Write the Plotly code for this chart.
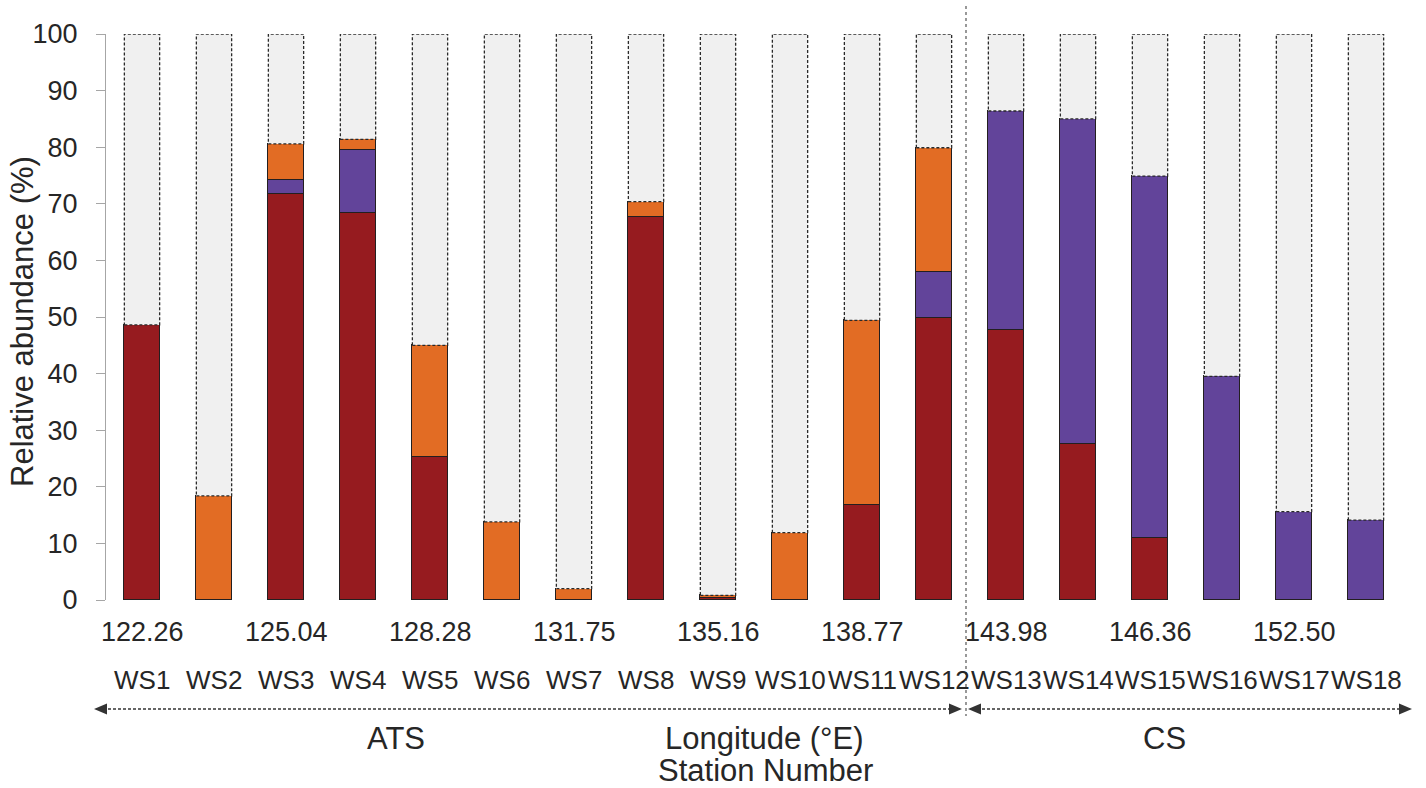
import plotly.graph_objects as go

stations = ["WS1", "WS2", "WS3", "WS4", "WS5", "WS6", "WS7", "WS8", "WS9",
            "WS10", "WS11", "WS12", "WS13", "WS14", "WS15", "WS16", "WS17", "WS18"]
longitude_labels = ["122.26", "", "125.04", "", "128.28", "", "131.75", "", "135.16",
                    "", "138.77", "", "143.98", "", "146.36", "", "152.50", ""]
red_vals = [48.6, 0, 71.8, 68.3, 25.3, 0, 0, 67.7, 0.4,
            0, 16.7, 49.8, 47.7, 27.6, 10.9, 0, 0, 0]
purple_vals = [0, 0, 2.4, 11.2, 0, 0, 0, 0, 0,
               0, 0, 8.2, 38.7, 57.4, 64.0, 39.5, 15.6, 14.1]
orange_vals = [0, 18.4, 6.4, 1.9, 19.7, 13.8, 2.0, 2.7, 0.4,
               11.9, 32.7, 21.9, 0, 0, 0, 0, 0, 0]
groups = ["ATS", "CS"]

n = len(stations)
xs = list(range(n))
colored_top = [r + p + o for r, p, o in zip(red_vals, purple_vals, orange_vals)]
gray_vals = [round(100 - t, 2) for t in colored_top]

RED = "#961B1F"
PURPLE = "#62449A"
ORANGE = "#E26C24"
GRAY = "#F0F0F0"
EDGE = "#231F20"
FONT = "Liberation Sans, Arial, sans-serif"
TXT = "#262626"
BAR_W = 0.49

fig = go.Figure()
for name, vals, col in [("red", red_vals, RED), ("purple", purple_vals, PURPLE),
                        ("orange", orange_vals, ORANGE)]:
    fig.add_trace(go.Bar(x=xs, y=vals, name=name, width=BAR_W,
                         marker=dict(color=col, line=dict(color=EDGE, width=1.2)),
                         showlegend=False))
fig.add_trace(go.Bar(x=xs, y=gray_vals, name="other", width=BAR_W,
                     marker=dict(color=GRAY, line=dict(width=0)), showlegend=False))

shapes = []
# dashed outlines of the remainder segments, derived from the data
for i, (t, g) in enumerate(zip(colored_top, gray_vals)):
    if g > 0:
        shapes.append(dict(type="rect", xref="x", yref="y",
                           x0=i - BAR_W / 2, x1=i + BAR_W / 2, y0=t, y1=100,
                           line=dict(color="#2a2a2a", width=1.3, dash="3px,2px"),
                           fillcolor="rgba(0,0,0,0)", layer="above"))

# plot area geometry in pixels
L, T, W, H = 106, 34, 1296, 566


def px(xp):
    return (xp - L) / W


def py(yp):
    return (T + H - yp) / H


# vertical separator between ATS and CS
shapes.append(dict(type="line", xref="paper", yref="paper",
                   x0=px(966), x1=px(966), y0=py(6), y1=py(716),
                   line=dict(color="#555555", width=1.2, dash="3px,3px")))

# range arrows
arrow_y = 709
for x0p, x1p in [(98, 958), (972, 1408)]:
    shapes.append(dict(type="line", xref="paper", yref="paper",
                       x0=px(x0p), x1=px(x1p), y0=py(arrow_y), y1=py(arrow_y),
                       line=dict(color="#333333", width=1.3, dash="3px,2px")))
    shapes.append(dict(type="path", xref="paper", yref="paper",
                       path=f"M {px(x0p - 4)} {py(arrow_y)} L {px(x0p + 9)} {py(arrow_y - 5.5)} "
                            f"L {px(x0p + 9)} {py(arrow_y + 5.5)} Z",
                       fillcolor="#333333", line=dict(width=0)))
    shapes.append(dict(type="path", xref="paper", yref="paper",
                       path=f"M {px(x1p + 4)} {py(arrow_y)} L {px(x1p - 9)} {py(arrow_y - 5.5)} "
                            f"L {px(x1p - 9)} {py(arrow_y + 5.5)} Z",
                       fillcolor="#333333", line=dict(width=0)))

annotations = []
for i, (st, lon) in enumerate(zip(stations, longitude_labels)):
    if lon:
        annotations.append(dict(x=i, y=py(632), xref="x", yref="paper", text=lon,
                                showarrow=False, xanchor="center", yanchor="middle",
                                font=dict(size=27, color=TXT, family=FONT)))
    annotations.append(dict(x=i, y=py(680), xref="x", yref="paper", text=st,
                            showarrow=False, xanchor="center", yanchor="middle",
                            font=dict(size=26, color=TXT, family=FONT)))

for txt, xp, yp in [(groups[0], 396, 738), ("Longitude (°E)", 764, 738),
                    ("Station Number", 765, 770), (groups[1], 1164, 738)]:
    annotations.append(dict(x=px(xp), y=py(yp), xref="paper", yref="paper", text=txt,
                            showarrow=False, xanchor="center", yanchor="middle",
                            font=dict(size=31, color=TXT, family=FONT)))

annotations.append(dict(x=px(22), y=py(322), xref="paper", yref="paper",
                        text="Relative abundance (%)", textangle=-90, showarrow=False,
                        xanchor="center", yanchor="middle",
                        font=dict(size=31, color=TXT, family=FONT)))

fig.update_layout(
    barmode="stack",
    width=1426, height=788,
    margin=dict(l=L, r=1426 - L - W, t=T, b=788 - T - H, pad=0),
    paper_bgcolor="white", plot_bgcolor="white",
    bargap=0,
    shapes=shapes,
    annotations=annotations,
    font=dict(family=FONT, color=TXT),
    xaxis=dict(range=[-0.5, n - 0.5], showticklabels=False, showgrid=False,
               zeroline=False, showline=False, ticks=""),
    yaxis=dict(range=[0, 100], tickmode="linear", tick0=0, dtick=10,
               showgrid=False, zeroline=False, showline=True, linecolor="#A6A6A6",
               linewidth=1.2, ticks="outside", ticklen=9, tickcolor="#A6A6A6",
               tickwidth=1.2, ticklabelstandoff=13,
               tickfont=dict(size=27, color=TXT, family=FONT)),
)

fig.write_html("out.html", config={"displayModeBar": False})
